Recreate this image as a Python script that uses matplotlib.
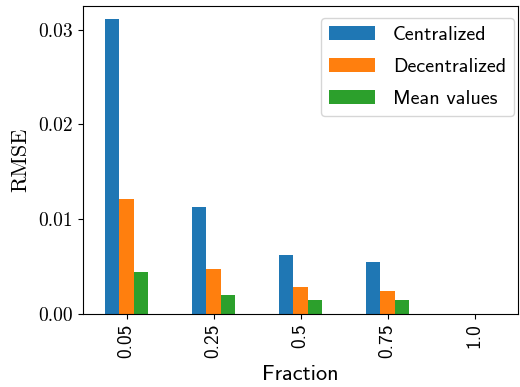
import matplotlib
matplotlib.use("Agg")
import matplotlib.pyplot as plt
import numpy as np

fractions = ["0.05", "0.25", "0.5", "0.75", "1.0"]
centralized = [0.0311, 0.0113, 0.0062, 0.00545, 0.00003]
decentralized = [0.0121, 0.0047, 0.0028, 0.00238, 0.00002]
mean_values = [0.00442, 0.00196, 0.00153, 0.00153, 0.00002]
series_names = ["Centralized", "Decentralized", "Mean values"]
colors = ["#1f77b4", "#ff7f0e", "#2ca02c"]
yticks = [0.0, 0.01, 0.02, 0.03]
ytick_labels = ["0.00", "0.01", "0.02", "0.03"]

plt.rcParams['axes.unicode_minus'] = False
W, H = 520, 387
fig = plt.figure(figsize=(5.2, 3.87), dpi=100)
ax_l, ax_r, ax_t, ax_b = 83, 518, 6, 314
ax = fig.add_axes([ax_l/W, 1-ax_b/H, (ax_r-ax_l)/W, (ax_b-ax_t)/H])

x = np.arange(len(fractions))
w = 0.5 / 3
for i, (vals, name) in enumerate(zip([centralized, decentralized, mean_values], series_names)):
    ax.bar(x + (i - 1) * w, vals, width=w, color=colors[i], label=name)

ax.set_xlim(-0.5, len(fractions) - 0.5)
ax.set_ylim(0, 0.0325)
ax.set_xticks(x)
ax.set_xticklabels(fractions, rotation=90, family="cmss10", fontsize=14)
ax.set_yticks(yticks)
ax.set_yticklabels(ytick_labels, family="cmr10", fontsize=14)
ax.set_xlabel("Fraction", family="cmss10", fontsize=16, labelpad=5)
ax.set_ylabel("RMSE", family="cmr10", fontsize=16, labelpad=6)

anchor = ((514 - ax_l) / (ax_r - ax_l), (ax_b - 17.5) / (ax_b - ax_t))
leg = ax.legend(loc="upper right", bbox_to_anchor=anchor, borderaxespad=0,
                prop={"family": "cmss10", "size": 14.5}, handlelength=2.25,
                handletextpad=0.9, labelspacing=0.7)

fig.savefig("out.png", dpi=100)
